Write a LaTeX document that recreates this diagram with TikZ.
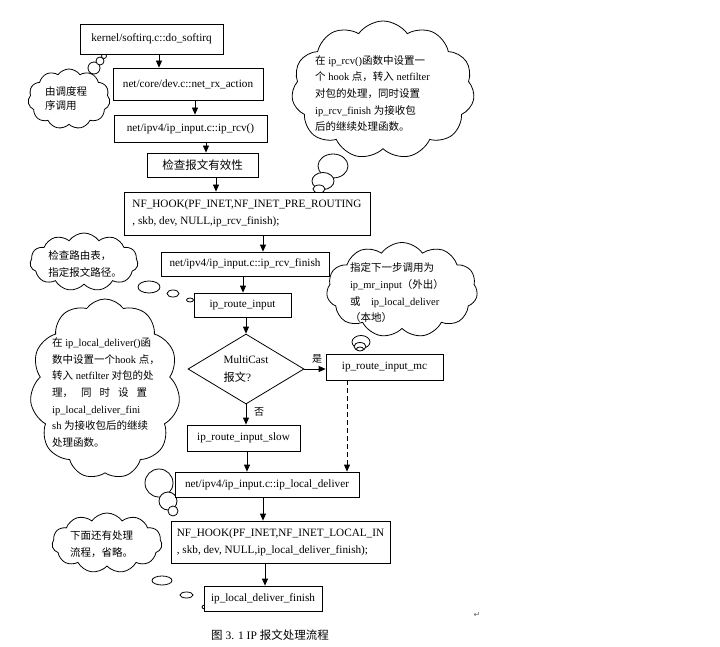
\documentclass[tikz,border=0pt]{standalone}
\usepackage{fontspec}
\setmainfont{Liberation Serif}
\newfontfamily\cjk{Noto Sans CJK SC}
\newfontfamily\symf{DejaVu Sans}
\usetikzlibrary{arrows.meta,shapes.geometric,shapes.symbols}
\newcommand\zhc[1]{{\cjk #1}}
\begin{document}
\begin{tikzpicture}[x=1pt,y=-1pt,
  box/.style={draw, fill=white, line width=0.8pt, inner sep=0pt, font=\fontsize{11.2}{17}\selectfont, align=left},
  arr/.style={line width=0.8pt, -{Triangle[length=7pt,width=6pt]}},
  cloudbox/.style={cloud, cloud puffs=11, cloud puff arc=110, cloud ignores aspect, draw, fill=white, line width=0.8pt, inner sep=0pt},
  bubble/.style={draw, fill=white, line width=0.8pt},
  ctext/.style={font=\fontsize{10.5}{16.7}\selectfont, align=left, inner sep=0pt},
  lbl/.style={font=\cjk\fontsize{10}{12}\selectfont, inner sep=0pt}
]
\useasboundingbox[fill=white] (0,0) rectangle (720,647);

% column coordinates for connectors
\coordinate (xa) at (159,0);
\coordinate (xb) at (195,0);
\coordinate (xc) at (206,0);
\coordinate (xd) at (216,0);
\coordinate (xe) at (263,0);
\coordinate (xf) at (243,0);
\coordinate (xg) at (246,0);
\coordinate (xh) at (347,0);
\coordinate (xi) at (247,0);
\coordinate (xj) at (263,0);
\coordinate (xk) at (265,0);

% clouds
\node[cloudbox, minimum width=82pt, minimum height=60pt] (cA) at (69,99) {};
\node[cloudbox, minimum width=183pt, minimum height=138pt] (cB) at (383,90) {};
\node[cloudbox, minimum width=108pt, minimum height=58pt] (cC) at (84,262) {};
\node[cloudbox, minimum width=151pt, minimum height=95pt] (cD) at (402,290) {};
\node[cloudbox, minimum width=150pt, minimum height=180pt] (cE) at (105,389) {};
\node[cloudbox, minimum width=110pt, minimum height=60pt] (cF) at (107,543) {};

% cloud tails
\draw[bubble] (94,68) circle (6);
\draw[bubble] (100,61) circle (4);
\draw[bubble] (104,56) circle (2.5);

\draw[bubble] (333,166) ellipse (15 and 12);
\draw[bubble] (323,181) ellipse (11 and 8.5);
\draw[bubble] (319,189) ellipse (6 and 4);

\draw[bubble] (149,287) ellipse (11 and 6);
\draw[bubble] (173,293.5) ellipse (6 and 3.5);
\draw[bubble] (190,300) ellipse (3.5 and 2);

\draw[bubble] (361,342) ellipse (9 and 6.5);
\draw[bubble] (360,346.5) ellipse (6 and 4);
\draw[bubble] (360,349) ellipse (3.5 and 2);

\draw[bubble] (159,483) circle (14);
\draw[bubble] (168,501) circle (9);
\draw[bubble] (173,511) circle (5);

\draw[bubble] (162,580.5) ellipse (10 and 4.5);
\draw[bubble] (186.5,595) ellipse (6.5 and 3);
\draw[bubble] (205,607) ellipse (3 and 2);

% cloud texts
\node[ctext, font=\fontsize{10.5}{14}\selectfont] (tA) at (66,99) {\zhc{由调度程}\\\zhc{序调用}};
\node[ctext] (tB) at (372.5,93.5) {\zhc{在} ip\_rcv()\zhc{函数中设置一}\\\zhc{个} hook \zhc{点，转入} netfilter\\\zhc{对包的处理，同时设置}\\ip\_rcv\_finish \zhc{为接收包}\\\zhc{后的继续处理函数。}};
\node[ctext] (tC) at (85,264) {\zhc{检查路由表，}\\\zhc{指定报文路径。}};
\node[ctext] (tD) at (397,293) {\zhc{指定下一步调用为}\\ip\_mr\_input\zhc{（外出）}\\\zhc{或}\quad ip\_local\_deliver\\\zhc{（本地）}};
\node[ctext] (tE) at (106,392.5) {\zhc{在} ip\_local\_deliver()\zhc{函}\\\zhc{数中设置一个}hook \zhc{点，}\\\zhc{转入} netfilter \zhc{对包的处}\\\makebox[95pt][s]{\zhc{理，} \zhc{同} \zhc{时} \zhc{设} \zhc{置}}\\ip\_local\_deliver\_fini\\sh \zhc{为接收包后的继续}\\\zhc{处理函数。}};
\node[ctext] (tF) at (101.5,544) {\zhc{下面还有处理}\\\zhc{流程，省略。}};

% boxes
\node[box, minimum width=143pt, minimum height=30pt] (b1) at (151.5,39) {kernel/softirq.c::do\_softirq};
\node[box, minimum width=150pt, minimum height=32pt] (b2) at (188,84) {net/core/dev.c::net\_rx\_action};
\node[box, minimum width=153pt, minimum height=27pt] (b3) at (190.5,128.5) {net/ipv4/ip\_input.c::ip\_rcv()};
\node[box, minimum width=111pt, minimum height=24pt, font=\cjk\fontsize{11.5}{14}\selectfont] (b4) at (202.5,165) {检查报文有效性};
\node[box, minimum width=246pt, minimum height=43pt] (b5) at (247,213.5) {NF\_HOOK(PF\_INET,NF\_INET\_PRE\_ROUTING\\, skb, dev, NULL,ip\_rcv\_finish);};
\node[box, minimum width=168pt, minimum height=24pt] (b6) at (245,264) {net/ipv4/ip\_input.c::ip\_rcv\_finish};
\node[box, minimum width=97pt, minimum height=24pt] (b7) at (242.5,305) {ip\_route\_input};
\node[diamond, draw, fill=white, line width=0.8pt, inner sep=0pt, aspect=1.657, minimum width=116pt, minimum height=70pt, align=left, font=\fontsize{11.2}{18}\selectfont] (dm) at (246,369) {MultiCast\\\zhc{报文}?};
\node[box, minimum width=117pt, minimum height=26pt] (b8) at (384.5,367) {ip\_route\_input\_mc};
\node[box, minimum width=113pt, minimum height=26pt] (b9) at (243.5,438) {ip\_route\_input\_slow};
\node[box, minimum width=184pt, minimum height=25pt] (b10) at (267,484.5) {net/ipv4/ip\_input.c::ip\_local\_deliver};
\node[box, minimum width=219pt, minimum height=42pt] (b11) at (280.5,542) {NF\_HOOK(PF\_INET,NF\_INET\_LOCAL\_IN\\, skb, dev, NULL,ip\_local\_deliver\_finish);};
\node[box, minimum width=118pt, minimum height=25pt] (b12) at (263,598.5) {ip\_local\_deliver\_finish};

% connectors
\draw[arr] (b1.south -| xa) -- (b2.north -| xa);
\draw[arr] (b2.south -| xb) -- (b3.north -| xb);
\draw[arr] (b3.south -| xc) -- (b4.north -| xc);
\draw[arr] (b4.south -| xd) -- (b5.north -| xd);
\draw[arr] (b5.south -| xe) -- (b6.north -| xe);
\draw[arr] (b6.south -| xf) -- (b7.north -| xf);
\draw[arr] (b7.south -| xg) -- (dm.north);
\draw[arr] (dm.east) -- (b8.west |- dm.east);
\draw[arr] (dm.south) -- (b9.north -| xg);
\draw[arr, dash pattern=on 5pt off 3pt] (b8.south -| xh) -- (b10.north -| xh);
\draw[arr] (b9.south -| xi) -- (b10.north -| xi);
\draw[arr] (b10.south -| xj) -- (b11.north -| xj);
\draw[arr] (b11.south -| xk) -- (b12.north -| xk);

% labels
\node[lbl] (yes) at (317,359) {是};
\node[lbl] (no) at (259,412) {否};

% caption and paragraph mark
\node[font=\fontsize{11.5}{13}\selectfont, inner sep=0pt] (cap) at (270,635) {\zhc{图} 3. 1 IP \zhc{报文处理流程}};
\node[font=\symf\fontsize{8}{9}\selectfont, text=black!60, inner sep=0pt] (pm) at (477,615) {↵};
\end{tikzpicture}
\end{document}
